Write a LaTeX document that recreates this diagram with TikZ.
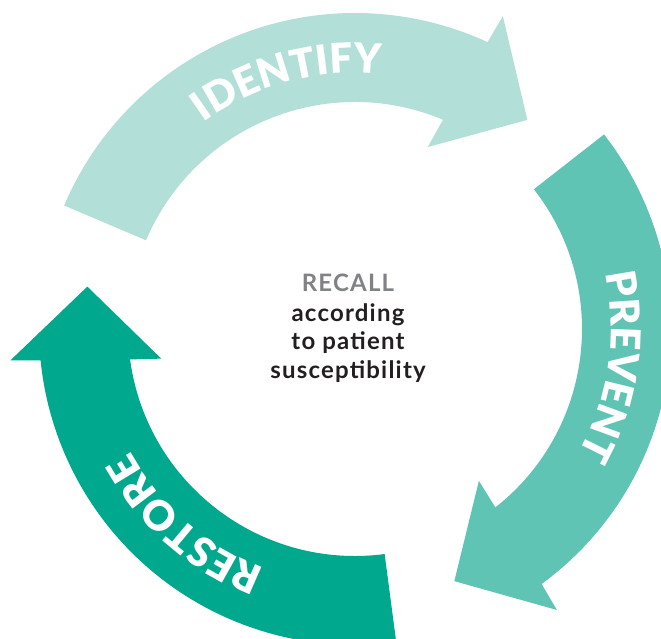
\documentclass[tikz,border=0pt]{standalone}
\usepackage{fontspec}
\setmainfont{Lato}
\newfontfamily\heavyfont{Lato Black}
\newfontfamily\centrefont[LetterSpace=5]{Lato}
\usepackage{tikz}
\usetikzlibrary{decorations.text}

\definecolor{identifycol}{HTML}{B2DFD8}
\definecolor{preventcol}{HTML}{5FC4B4}
\definecolor{restorecol}{HTML}{00A88E}
\definecolor{recallgray}{HTML}{808285}
\definecolor{darktext}{HTML}{231F20}

\newcommand{\arcfont}{\heavyfont\fontsize{41}{41}\selectfont}

\tikzset{
  centertext/.style={font=\centrefont\fontsize{24}{24}\selectfont\bfseries, anchor=base, inner sep=0pt},
  arclabel/.style={decorate, decoration={text along path, text align=center,
      text color=white, text={|\arcfont|#1}}}
}

\begin{document}
\begin{tikzpicture}[x=1pt,y=1pt]

\useasboundingbox (0,0) rectangle (661,638);
\clip (0,0) rectangle (661,638);

\begin{scope}[shift={(355,309)}]
% three arrows round the ring, tail angle / colour
\foreach \tail/\col in {157/identifycol, 38/preventcol, -82.5/restorecol}
  \fill[\col] (\tail:316) arc[start angle=\tail, end angle={\tail-91.8}, radius=316]
     -- ({\tail-92.3}:346) -- ({\tail-106.5}:271) -- ({\tail-88.8}:196)
     -- ({\tail-89.8}:227) arc[start angle={\tail-89.8}, end angle=\tail, radius=227]
     -- cycle;

\path[arclabel=IDENTIFY] (140.2:256) arc[start angle=140.2, end angle=70.2, radius=256];
\path[arclabel=PREVENT] (26.6:256) arc[start angle=26.6, end angle=-43.4, radius=256];
\path[arclabel=RESTORE] (264:256) arc[start angle=264, end angle=194, radius=256];
\end{scope}

\node[centertext, text=recallgray] (recall) at (348,346.3) {RECALL};
\node[centertext, text=darktext] (according) at (348,316.3) {according};
\node[centertext, text=darktext] (patient) at (348,288) {to patient};
\node[centertext, text=darktext] (suscept) at (348,259.7) {susceptibility};

\end{tikzpicture}
\end{document}
